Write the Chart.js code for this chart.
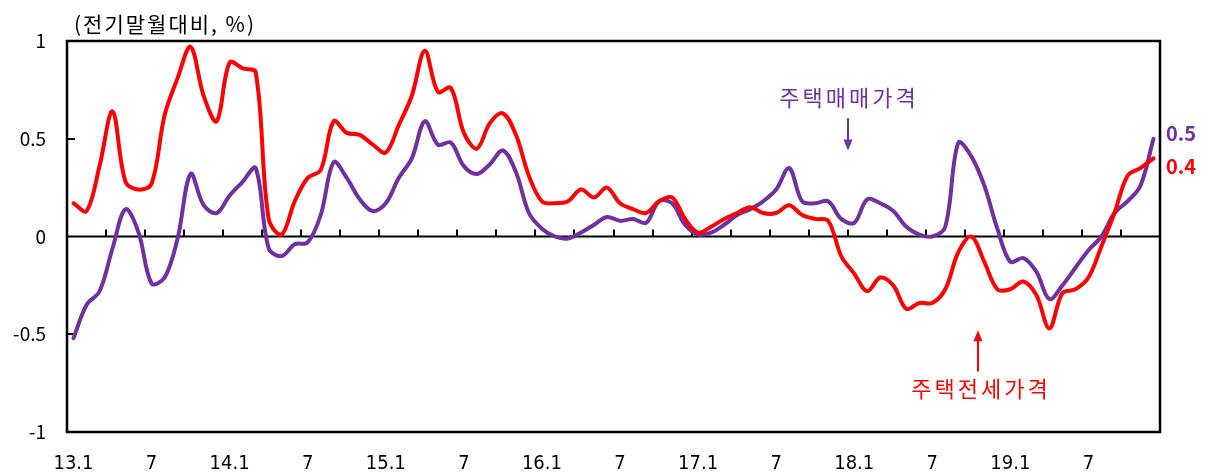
<!DOCTYPE html>
<html>
<head>
<meta charset="utf-8">
<script src="https://cdn.jsdelivr.net/npm/chart.js@4.4.0/dist/chart.umd.min.js"></script>
<style>
  html, body { margin: 0; padding: 0; background: #fff; }
  #wrap { width: 1210px; height: 473px; }
</style>
</head>
<body>
<div id="wrap"><canvas id="c" width="1210" height="473"></canvas></div>
<script>
(function () {
  'use strict';

  // categories: 2013.1 ~ 2019.12, monthly
  var YEARS = ['13', '14', '15', '16', '17', '18', '19'];
  var MONTHS = [1, 2, 3, 4, 5, 6, 7, 8, 9, 10, 11, 12];
  var TICK_LABELS = ['13.1', '7', '14.1', '7', '15.1', '7', '16.1', '7', '17.1', '7', '18.1', '7', '19.1', '7'];

  // 주택매매가격 (purple)
  var SALE = [
    -0.52, -0.35, -0.28, -0.06, 0.14, 0.02, -0.24, -0.21, -0.01, 0.32, 0.16, 0.12,
    0.21, 0.28, 0.35, -0.06, -0.10, -0.04, -0.03, 0.11, 0.38, 0.30, 0.19, 0.13,
    0.17, 0.30, 0.40, 0.59, 0.47, 0.48, 0.36, 0.32, 0.37, 0.44, 0.33, 0.12,
    0.04, 0.00, -0.01, 0.02, 0.06, 0.10, 0.08, 0.09, 0.07, 0.18, 0.17, 0.06,
    0.01, 0.02, 0.06, 0.11, 0.14, 0.18, 0.24, 0.35, 0.18, 0.17, 0.18, 0.09,
    0.07, 0.19, 0.17, 0.13, 0.05, 0.01, 0.00, 0.05, 0.48, 0.41, 0.26, 0.04,
    -0.13, -0.11, -0.18, -0.32, -0.25, -0.16, -0.07, 0.00, 0.12, 0.18, 0.26, 0.50
  ];

  // 주택전세가격 (red)
  var RENT = [
    0.17, 0.13, 0.36, 0.64, 0.28, 0.24, 0.27, 0.62, 0.81, 0.97, 0.72, 0.59,
    0.89, 0.86, 0.84, 0.09, 0.01, 0.18, 0.30, 0.34, 0.59, 0.53, 0.52, 0.47,
    0.43, 0.57, 0.72, 0.95, 0.74, 0.76, 0.53, 0.45, 0.58, 0.63, 0.52, 0.31,
    0.18, 0.17, 0.18, 0.24, 0.20, 0.25, 0.17, 0.14, 0.12, 0.18, 0.20, 0.09,
    0.02, 0.05, 0.09, 0.12, 0.15, 0.12, 0.12, 0.16, 0.11, 0.09, 0.08, -0.10,
    -0.19, -0.28, -0.21, -0.25, -0.37, -0.34, -0.34, -0.27, -0.08, 0.00, -0.13, -0.27,
    -0.27, -0.23, -0.30, -0.47, -0.29, -0.27, -0.21, -0.05, 0.12, 0.31, 0.35, 0.40
  ];

  var PURPLE = '#7030A0';
  var RED = '#FF0000';
  var KR = "'Noto Sans CJK KR', 'Noto Sans', sans-serif";

  var labels = [];
  YEARS.forEach(function (y) {
    MONTHS.forEach(function (m) { labels.push(y + '.' + m); });
  });

  function arrow(ctx, x, y1, y2, color) {
    var dir = y2 > y1 ? 1 : -1;
    ctx.strokeStyle = color;
    ctx.fillStyle = color;
    ctx.lineWidth = 2;
    ctx.beginPath();
    ctx.moveTo(x, y1);
    ctx.lineTo(x, y2 - dir * 8);
    ctx.stroke();
    ctx.beginPath();
    ctx.moveTo(x, y2);
    ctx.lineTo(x - 4.5, y2 - dir * 11);
    ctx.lineTo(x + 4.5, y2 - dir * 11);
    ctx.closePath();
    ctx.fill();
  }

  var framePlugin = {
    id: 'frame',
    beforeDatasetsDraw: function (chart) {
      var ctx = chart.ctx, a = chart.chartArea;
      var xs = chart.scales.x, ys = chart.scales.y;
      var y0 = ys.getPixelForValue(0);
      ctx.save();
      ctx.strokeStyle = '#000';
      ctx.lineWidth = 2;
      ctx.beginPath();
      ctx.moveTo(a.left, y0);
      ctx.lineTo(a.right, y0);
      // quarter ticks on zero line
      for (var i = 2; i < labels.length - 1; i += 3) {
        var tx = Math.round((xs.getPixelForValue(i) + xs.getPixelForValue(i + 1)) / 2);
        ctx.moveTo(tx, y0);
        ctx.lineTo(tx, y0 - 7);
      }
      // inward y ticks
      [0.5, -0.5].forEach(function (v) {
        var ty = Math.round(ys.getPixelForValue(v));
        ctx.moveTo(a.left, ty);
        ctx.lineTo(a.left + 8, ty);
      });
      ctx.stroke();
      ctx.restore();
    },
    afterDatasetsDraw: function (chart) {
      var ctx = chart.ctx, a = chart.chartArea;
      var xs = chart.scales.x, ys = chart.scales.y;
      ctx.save();
      ctx.strokeStyle = '#000';
      ctx.lineWidth = 2.5;
      ctx.strokeRect(a.left, a.top, a.right - a.left, a.bottom - a.top);

      // unit label
      ctx.fillStyle = '#000';
      ctx.font = '21px ' + KR;
      ctx.letterSpacing = '2px';
      ctx.textAlign = 'left';
      ctx.textBaseline = 'middle';
      ctx.fillText('(전기말월대비, %)', a.left + 7, a.top - 17);

      // last values
      var last = labels.length - 1;
      ctx.letterSpacing = '0px';
      ctx.font = 'bold 20px ' + KR;
      ctx.fillStyle = PURPLE;
      ctx.fillText(SALE[last].toFixed(1), a.right + 6, ys.getPixelForValue(SALE[last]) - 5);
      ctx.fillStyle = RED;
      ctx.fillText(RENT[last].toFixed(1), a.right + 6, ys.getPixelForValue(RENT[last]) + 8);

      // annotations
      ctx.font = '22px ' + KR;
      ctx.letterSpacing = '3px';
      ctx.textAlign = 'center';
      var px = Math.round(xs.getPixelForValue(59.5));
      ctx.fillStyle = PURPLE;
      ctx.fillText('주택매매가격', px + 1, ys.getPixelForValue(0.71));
      arrow(ctx, px, ys.getPixelForValue(0.605), ys.getPixelForValue(0.44), PURPLE);

      var rx = Math.round(xs.getPixelForValue(69.5));
      ctx.fillStyle = RED;
      ctx.fillText('주택전세가격', rx + 3, ys.getPixelForValue(-0.78));
      arrow(ctx, rx, ys.getPixelForValue(-0.69), ys.getPixelForValue(-0.48), RED);
      ctx.restore();
    }
  };

  new Chart(document.getElementById('c'), {
    type: 'line',
    data: {
      labels: labels,
      datasets: [{
        label: '주택전세가격',
        data: RENT,
        borderColor: RED,
        borderWidth: 4,
        tension: 0.35,
        pointRadius: 0,
        fill: false,
        borderCapStyle: 'round',
        borderJoinStyle: 'round'
      }, {
        label: '주택매매가격',
        data: SALE,
        borderColor: PURPLE,
        borderWidth: 4,
        tension: 0.35,
        pointRadius: 0,
        fill: false,
        borderCapStyle: 'round',
        borderJoinStyle: 'round'
      }]
    },
    options: {
      responsive: false,
      animation: false,
      layout: { padding: { top: 41, right: 50, left: 0, bottom: 0 } },
      plugins: { legend: { display: false }, tooltip: { enabled: false } },
      scales: {
        x: {
          type: 'category',
          offset: true,
          grid: { display: false, drawTicks: false },
          border: { display: false },
          afterFit: function (s) { s.height = 41; },
          ticks: {
            autoSkip: false,
            maxRotation: 0,
            minRotation: 0,
            padding: 20,
            color: '#000',
            font: { family: "'Liberation Sans Narrow', 'DejaVu Sans Condensed', 'Liberation Sans', sans-serif", size: 20 },
            callback: function (v, idx) { return idx % 6 === 0 ? TICK_LABELS[idx / 6] : ''; }
          }
        },
        y: {
          min: -1,
          max: 1,
          grid: { display: false, drawTicks: false },
          border: { display: false },
          afterFit: function (s) { s.width = 67; },
          ticks: {
            stepSize: 0.5,
            padding: 21,
            color: '#000',
            font: { family: KR, size: 19 },
            callback: function (v) { return String(Number(v)); }
          }
        }
      }
    },
    plugins: [framePlugin]
  });
})();
</script>
</body>
</html>
